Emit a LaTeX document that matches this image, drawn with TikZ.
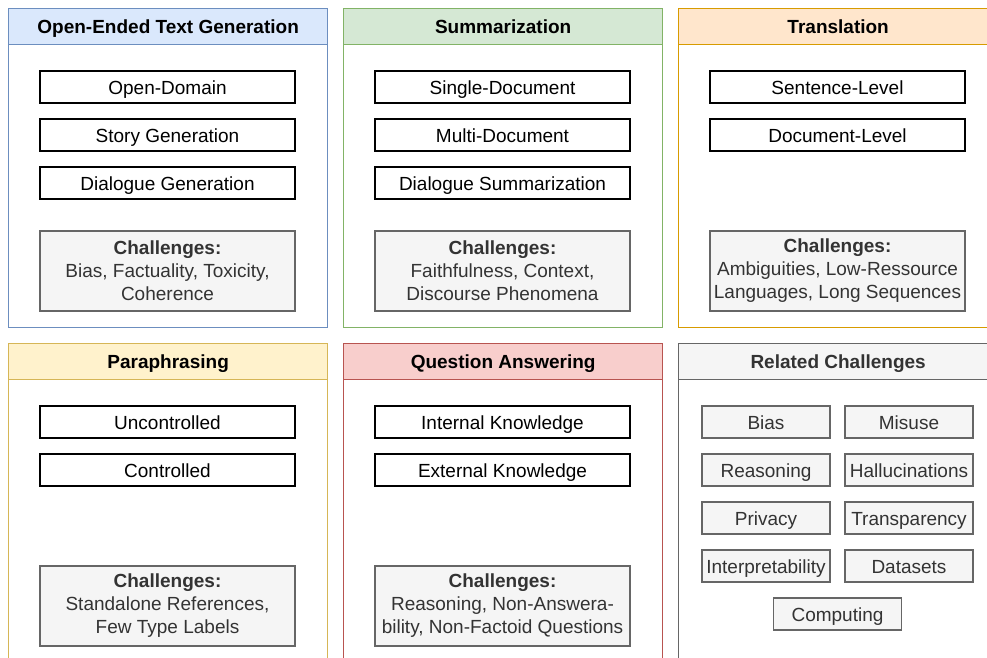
\documentclass[tikz,border=0pt]{standalone}
\usepackage{fontspec}
\setmainfont{Liberation Sans}
\definecolor{bluef}{HTML}{DAE8FC}\definecolor{blued}{HTML}{6C8EBF}
\definecolor{greenf}{HTML}{D5E8D4}\definecolor{greend}{HTML}{82B366}
\definecolor{orangef}{HTML}{FFE6CC}\definecolor{oranged}{HTML}{D79B00}
\definecolor{yellowf}{HTML}{FFF2CC}\definecolor{yellowd}{HTML}{D6B656}
\definecolor{redf}{HTML}{F8CECC}\definecolor{redd}{HTML}{B85450}
\definecolor{grayf}{HTML}{F5F5F5}\definecolor{grayd}{HTML}{666666}
\definecolor{txtg}{HTML}{333333}
\tikzset{
  oneline/.style={text height=16pt, text depth=1.5pt},
  panelbox/.style={draw=#1, line width=1.3pt, minimum width=319pt, minimum height=319pt, inner sep=0pt, anchor=north west},
  headbox/.style n args={2}{draw=#2, fill=#1, line width=1.3pt, minimum width=319pt, minimum height=36pt, inner sep=0pt, anchor=north west, oneline, font=\fontsize{19}{22}\selectfont\bfseries},
  itembox/.style={draw=black, line width=1.3pt, minimum width=255pt, minimum height=32pt, inner sep=0pt, oneline, font=\fontsize{19}{22}\selectfont},
  chalbox/.style={draw=grayd, fill=grayf, line width=1.3pt, minimum width=255pt, minimum height=80pt, inner sep=0pt, align=center, text=txtg, font=\fontsize{19}{23}\selectfont},
  relbox/.style={draw=grayd, fill=grayf, line width=1.3pt, minimum width=128pt, minimum height=32pt, inner sep=0pt, oneline, text=txtg, font=\fontsize{19}{22}\selectfont},
}
\begin{document}
\begin{tikzpicture}[x=1pt,y=-1pt]
\useasboundingbox (0,0) rectangle (987,658);
% Row 1
\node[panelbox=blued] (p1) at (8,8) {};
\node[headbox={bluef}{blued}] (h1) at (8,8) {Open-Ended Text Generation};
\node[itembox] (a1) at (167.5,87) {Open-Domain};
\node[itembox] (a2) at (167.5,135) {Story Generation};
\node[itembox] (a3) at (167.5,183) {Dialogue Generation};
\node[chalbox] (a4) at (167.5,271) {\textbf{Challenges:}\\Bias, Factuality, Toxicity,\\Coherence};

\node[panelbox=greend] (p2) at (343,8) {};
\node[headbox={greenf}{greend}] (h2) at (343,8) {Summarization};
\node[itembox] (b1) at (502.5,87) {Single-Document};
\node[itembox] (b2) at (502.5,135) {Multi-Document};
\node[itembox] (b3) at (502.5,183) {Dialogue Summarization};
\node[chalbox] (b4) at (502.5,271) {\textbf{Challenges:}\\Faithfulness, Context,\\Discourse Phenomena};

\node[panelbox=oranged] (p3) at (678,8) {};
\node[headbox={orangef}{oranged}] (h3) at (678,8) {Translation};
\node[itembox] (c1) at (837.5,87) {Sentence-Level};
\node[itembox] (c2) at (837.5,135) {Document-Level};
\node[chalbox] (c4) at (837.5,271) {\textbf{Challenges:}\\Ambiguities, Low-Ressource\\Languages, Long Sequences};

% Row 2
\node[panelbox=yellowd, minimum height=330pt] (p4) at (8,343) {};
\node[headbox={yellowf}{yellowd}] (h4) at (8,343) {Paraphrasing};
\node[itembox] (d1) at (167.5,422) {Uncontrolled};
\node[itembox] (d2) at (167.5,470) {Controlled};
\node[chalbox] (d4) at (167.5,606) {\textbf{Challenges:}\\Standalone References,\\Few Type Labels};

\node[panelbox=redd, minimum height=330pt] (p5) at (343,343) {};
\node[headbox={redf}{redd}] (h5) at (343,343) {Question Answering};
\node[itembox] (e1) at (502.5,422) {Internal Knowledge};
\node[itembox] (e2) at (502.5,470) {External Knowledge};
\node[chalbox] (e4) at (502.5,606) {\textbf{Challenges:}\\Reasoning, Non-Answera-\\bility, Non-Factoid Questions};

\node[panelbox=grayd, minimum height=330pt] (p6) at (678,343) {};
\node[headbox={grayf}{grayd}, text=txtg] (h6) at (678,343) {Related Challenges};
\node[relbox] (f1) at (766,422) {Bias};
\node[relbox] (f2) at (909,422) {Misuse};
\node[relbox] (f3) at (766,470) {Reasoning};
\node[relbox] (f4) at (909,470) {Hallucinations};
\node[relbox] (f5) at (766,518) {Privacy};
\node[relbox] (f6) at (909,518) {Transparency};
\node[relbox] (f7) at (766,566) {Interpretability};
\node[relbox] (f8) at (909,566) {Datasets};
\node[relbox] (f9) at (837.5,614) {Computing};
\end{tikzpicture}
\end{document}
